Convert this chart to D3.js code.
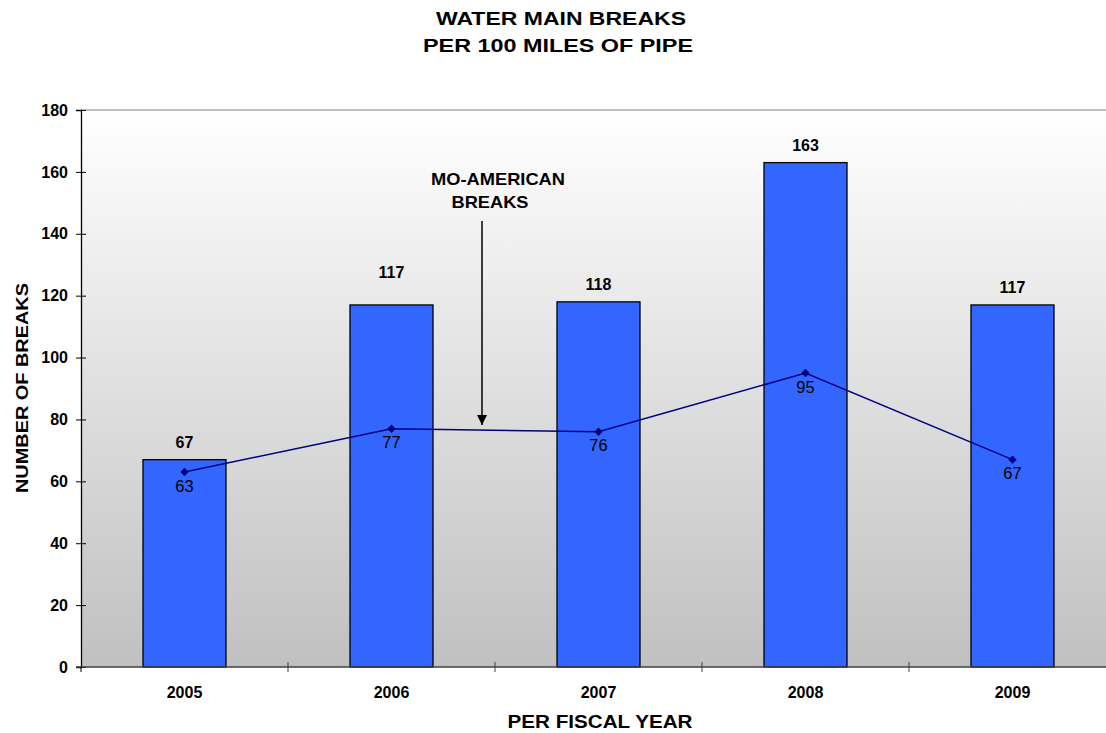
<!DOCTYPE html>
<html>
<head>
<meta charset="utf-8">
<script src="https://cdn.jsdelivr.net/npm/d3@7"></script>
<style>
  body { margin: 0; background: #fff; }
  svg { display: block; font-family: "Liberation Sans", Arial, sans-serif; }
</style>
</head>
<body>
<div id="chart"></div>
<script>
// ── Data ──
const years = ["2005", "2006", "2007", "2008", "2009"];
const breaks = [67, 117, 118, 163, 117];        // bars
const moAmerican = [63, 77, 76, 95, 67];         // line
const yTicks = [0, 20, 40, 60, 80, 100, 120, 140, 160, 180];

const W = 1106, H = 733;
const m = { top: 110, right: -10, bottom: 66, left: 81 };

const svg = d3.select("#chart").append("svg")
    .attr("width", W).attr("height", H);

const xb = d3.scaleBand().domain(years).range([m.left, W - m.right]);
const y = d3.scaleLinear().domain([0, 180]).range([H - m.bottom, m.top]);
const cx = i => xb(years[i]) + xb.bandwidth() / 2;

// background gradient
const defs = svg.append("defs");
const grad = defs.append("linearGradient").attr("id", "bg")
    .attr("x1", 0).attr("y1", 0).attr("x2", 0).attr("y2", 1);
grad.append("stop").attr("offset", "0%").attr("stop-color", "#ffffff");
grad.append("stop").attr("offset", "100%").attr("stop-color", "#c0c0c0");

svg.append("rect")
    .attr("x", m.left).attr("y", y(180))
    .attr("width", W - m.left).attr("height", y(0) - y(180))
    .attr("fill", "url(#bg)");

// top border line
svg.append("line")
    .attr("x1", m.left).attr("x2", W)
    .attr("y1", y(180)).attr("y2", y(180))
    .attr("stroke", "#808080").attr("stroke-width", 1);

// ── Bars ──
svg.selectAll("rect.bar").data(breaks).enter().append("rect")
    .attr("class", "bar")
    .attr("x", (d, i) => cx(i) - 41.5)
    .attr("width", 83)
    .attr("y", d => y(d))
    .attr("height", d => y(0) - y(d))
    .attr("fill", "#3366ff")
    .attr("stroke", "#000").attr("stroke-width", 1.3);

// 2006 label sits higher in the original
svg.selectAll("text.barlab").data(breaks).enter().append("text")
    .attr("x", (d, i) => cx(i))
    .attr("y", (d, i) => y(d) - (i === 1 ? 27 : 12))
    .attr("text-anchor", "middle")
    .attr("font-size", 16).attr("font-weight", "bold")
    .text(d => d);

// ── Axes ──
const yAxis = svg.append("g")
    .attr("transform", `translate(${m.left},0)`)
    .call(d3.axisLeft(y).tickValues(yTicks).tickSize(5).tickPadding(8));
yAxis.select(".domain").attr("stroke", "#000").attr("stroke-width", 1.3);
yAxis.selectAll(".tick line").attr("x2", 5).attr("x1", -5).attr("stroke", "#000");
yAxis.selectAll("text").attr("font-size", 16).attr("font-weight", "bold")
    .attr("font-family", "Liberation Sans, Arial, sans-serif").attr("fill", "#000");

// x axis line
svg.append("line")
    .attr("x1", m.left - 5).attr("x2", W)
    .attr("y1", y(0)).attr("y2", y(0))
    .attr("stroke", "#404040").attr("stroke-width", 1.3);

// category boundary ticks
svg.selectAll("line.xtick").data(years.slice(1)).enter().append("line")
    .attr("x1", d => xb(d)).attr("x2", d => xb(d))
    .attr("y1", y(0) - 5).attr("y2", y(0) + 5)
    .attr("stroke", "#404040");
svg.append("line")
    .attr("x1", m.left).attr("x2", m.left)
    .attr("y1", y(0)).attr("y2", y(0) + 5)
    .attr("stroke", "#000");

svg.selectAll("text.xlab").data(years).enter().append("text")
    .attr("x", (d, i) => cx(i))
    .attr("y", y(0) + 31)
    .attr("text-anchor", "middle")
    .attr("font-size", 16).attr("font-weight", "bold")
    .text(d => d);

// ── Line ──
svg.append("path")
    .datum(moAmerican)
    .attr("fill", "none").attr("stroke", "#000080").attr("stroke-width", 1.5)
    .attr("d", d3.line().x((d, i) => cx(i)).y(d => y(d)));

svg.selectAll("path.marker").data(moAmerican).enter().append("path")
    .attr("d", d3.symbol(d3.symbolDiamond2, 45))
    .attr("transform", (d, i) => `translate(${cx(i)},${y(d)})`)
    .attr("fill", "#000080");

svg.selectAll("text.linelab").data(moAmerican).enter().append("text")
    .attr("x", (d, i) => cx(i))
    .attr("y", d => y(d) + 19.5)
    .attr("text-anchor", "middle")
    .attr("font-size", 16.5)
    .text(d => d);

// ── Annotation ──
defs.append("marker").attr("id", "arrow")
    .attr("viewBox", "0 0 10 10").attr("refX", 10).attr("refY", 5)
    .attr("markerWidth", 10).attr("markerHeight", 10)
    .attr("markerUnits", "userSpaceOnUse")
    .attr("orient", "auto")
  .append("path").attr("d", "M0,0L10,5L0,10Z").attr("fill", "#000");

svg.append("line")
    .attr("x1", 482).attr("x2", 482)
    .attr("y1", 221).attr("y2", 425)
    .attr("stroke", "#000").attr("stroke-width", 1.5)
    .attr("marker-end", "url(#arrow)");

function stretched(sel, x, yy, txt, len, size) {
  return sel.append("text")
      .attr("x", x).attr("y", yy)
      .attr("text-anchor", "middle")
      .attr("font-size", size).attr("font-weight", "bold")
      .attr("textLength", len).attr("lengthAdjust", "spacingAndGlyphs")
      .text(txt);
}

stretched(svg, 498, 185, "MO-AMERICAN", 134, 17);
stretched(svg, 490, 208, "BREAKS", 77, 17);

// ── Titles ──
stretched(svg, 561, 25, "WATER MAIN BREAKS", 250, 19);
stretched(svg, 558, 52, "PER 100 MILES OF PIPE", 270, 19);

stretched(svg, 600, 728, "PER FISCAL YEAR", 185, 18.5);

stretched(svg, 0, 0, "NUMBER OF BREAKS", 210, 17)
    .attr("transform", `translate(28,388) rotate(-90)`);
</script>
</body>
</html>
